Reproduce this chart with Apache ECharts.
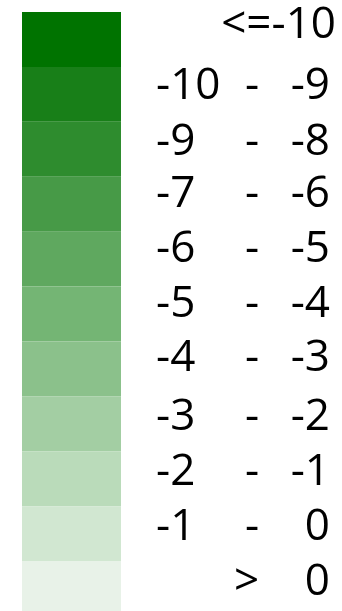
<!DOCTYPE html>
<html>
<head>
<meta charset="utf-8">
<script src="https://cdn.jsdelivr.net/npm/echarts@6/dist/echarts.min.js"></script>
<style>
  html, body { margin: 0; padding: 0; background: #fff; }
  #chart { width: 342px; height: 611px; }
</style>
</head>
<body>
<div id="chart"></div>
<script>
// Class breaks of the legend, top to bottom
const lowerBounds = ['', '-10', '-9', '-7', '-6', '-5', '-4', '-3', '-2', '-1', ''];
const operators   = ['<=', '-', '-', '-', '-', '-', '-', '-', '-', '-', '>'];
const upperBounds = ['-10', '-9', '-8', '-6', '-5', '-4', '-3', '-2', '-1', '0', '0'];
// One swatch per class
const swatchValues = [1, 1, 1, 1, 1, 1, 1, 1, 1, 1, 1];
const classColors = [
  '#007300', '#187f18', '#2e8c2e', '#479a47', '#5fa85f', '#74b574',
  '#8bc18b', '#a3cea3', '#badbba', '#d1e7d1', '#e8f2e8'
];
// vertical nudge of each label relative to its swatch (px)
const labelShift = [-14, -8, -7, -10, -10, -10, -10, -6, -6, -6, -6];

const categories = upperBounds.map((u, i) => lowerBounds[i] + ' ' + operators[i] + ' ' + u);

const chart = echarts.init(document.getElementById('chart'));

function labelText(i) {
  if (operators[i] === '<=') return '{all|' + operators[i] + upperBounds[i] + '}';
  if (operators[i] === '>') return '{gap| }{gt|' + operators[i] + '}{hi|' + upperBounds[i] + '}';
  return '{lo|' + lowerBounds[i] + '}{op|' + operators[i] + '}{hi|' + upperBounds[i] + '}';
}

const font = { fontFamily: 'Open Sans', fontSize: 44, color: '#000' };

chart.setOption({
  animation: false,
  // the last swatch runs past the bottom edge of the canvas
  grid: { left: 22, width: 99, top: 12, bottom: -5, outerBoundsMode: 'none', containLabel: false },
  xAxis: { type: 'value', min: 0, max: 1, show: false },
  yAxis: { type: 'category', data: categories, inverse: true, show: false },
  series: [{
    type: 'bar',
    barCategoryGap: 0,
    barWidth: '100%',
    data: swatchValues.map((v, i) => ({
      value: v,
      itemStyle: { color: classColors[i] },
      label: { offset: [0, labelShift[i]] }
    })),
    label: {
      show: true,
      position: 'right',
      distance: 35,
      formatter: p => labelText(p.dataIndex),
      rich: {
        all: Object.assign({ width: 180, align: 'right' }, font),
        lo:  Object.assign({ width: 89, align: 'left' }, font),
        op:  Object.assign({ width: 35, align: 'left' }, font),
        gap: Object.assign({ width: 78, align: 'left' }, font),
        gt:  Object.assign({ width: 46, align: 'left' }, font),
        hi:  Object.assign({ width: 50, align: 'right' }, font)
      }
    }
  }]
});
</script>
</body>
</html>
